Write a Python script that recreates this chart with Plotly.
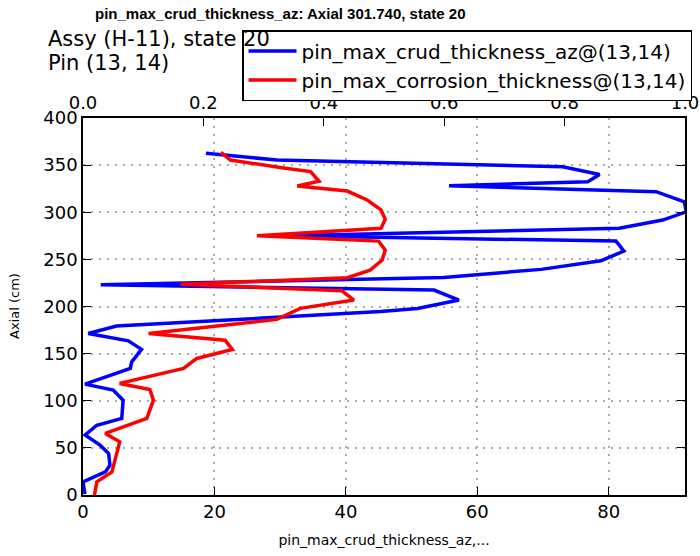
import plotly.graph_objects as go

# Blue: pin_max_crud_thickness_az (bottom axis)
crud_axial = [362.5, 355.4, 348.3, 340.0, 332.4, 328.0, 321.8, 311.0, 300.5, 291.7,
              283.0, 275.0, 269.4, 258.8, 248.5, 239.4, 230.9, 223.0, 217.4, 206.8,
              198.0, 194.6, 179.2, 171.4, 163.6, 154.5, 141.0, 134.3, 117.6, 111.3,
              100.6, 81.2, 74.0, 63.6, 52.9, 44.0, 31.6, 24.5, 13.9, 8.0, 1.0]
crud_values = [18.7, 29.5, 73.0, 78.6, 76.8, 55.7, 87.2, 91.5, 91.8, 88.2,
               81.6, 31.0, 81.1, 82.3, 78.8, 69.7, 54.9, 2.7, 53.4, 57.2,
               50.9, 45.3, 5.1, 0.8, 6.9, 8.9, 7.4, 7.2, 0.3, 4.6,
               6.1, 5.9, 2.1, 0.3, 2.6, 3.9, 4.1, 3.4, 0.0, 0.1, 0.3]

# Red: pin_max_corrosion_thickness (top axis)
corr_axial = [363.6, 355.4, 346.6, 343.1, 333.0, 327.8, 322.5, 313.0, 302.6, 292.5,
              282.9, 275.0, 269.4, 259.9, 249.3, 238.6, 230.5, 223.5, 216.7, 206.8,
              198.0, 186.3, 171.4, 164.3, 154.5, 144.9, 134.3, 118.4, 112.0, 100.6,
              81.2, 65.3, 56.4, 38.7, 24.5, 13.9, 0.0]
corr_values = [0.229, 0.245, 0.336, 0.378, 0.392, 0.356, 0.439, 0.472, 0.495, 0.502,
               0.495, 0.289, 0.491, 0.502, 0.497, 0.477, 0.439, 0.162, 0.430, 0.450,
               0.361, 0.322, 0.109, 0.236, 0.248, 0.189, 0.167, 0.061, 0.111, 0.117,
               0.106, 0.037, 0.061, 0.053, 0.048, 0.023, 0.019]

bottom_ticks = [0, 20, 40, 60, 80]
top_ticks = [0.0, 0.2, 0.4, 0.6, 0.8, 1.0]
y_ticks = [0, 50, 100, 150, 200, 250, 300, 350, 400]

FONT = "DejaVu Sans"
L, R, T, B = 83, 15, 118, 61
PW, PH = 700 - L - R, 556 - T - B


def px_x(px):
    return (px - L) / PW


def px_y(py):
    return (556 - B - py) / PH


fig = go.Figure()
fig.add_trace(go.Scatter(x=crud_values, y=crud_axial, mode="lines",
                         line=dict(color="#0000ff", width=3.5),
                         name="pin_max_crud_thickness_az@(13,14)", xaxis="x", yaxis="y"))
fig.add_trace(go.Scatter(x=corr_values, y=corr_axial, mode="lines",
                         line=dict(color="#ff0000", width=3.5),
                         name="pin_max_corrosion_thickness@(13,14)", xaxis="x2", yaxis="y"))

axis_common = dict(showline=True, linecolor="black", linewidth=1.5, ticks="inside",
                   ticklen=8, tickcolor="black", tickfont=dict(family=FONT, size=18, color="black"),
                   zeroline=False)
grid = dict(showgrid=True, gridcolor="#aaaaaa", griddash="2px,6px", gridwidth=1.5)

fig.update_layout(
    width=700, height=556,
    margin=dict(l=L, r=R, t=T, b=B, autoexpand=False),
    paper_bgcolor="white", plot_bgcolor="white",
    font=dict(family=FONT, color="black"),
    xaxis=dict(range=[0, 91.6], tickvals=bottom_ticks, mirror=True,
               title=dict(text="pin_max_crud_thickness_az,...", font=dict(family=FONT, size=14), standoff=14),
               **grid, **axis_common),
    xaxis2=dict(range=[0, 1], tickvals=top_ticks, tickformat=".1f", overlaying="x", side="top",
                showgrid=False, anchor="y", **axis_common),
    yaxis=dict(range=[0, 400], tickvals=y_ticks, mirror="ticks", **grid, **axis_common),
    legend=dict(x=px_x(242), y=px_y(30), xanchor="left", yanchor="top",
                bgcolor="white", bordercolor="black", borderwidth=1.5,
                font=dict(family=FONT, size=20, color="black"),
                tracegroupgap=0, itemwidth=48),
    showlegend=True,
    annotations=[
        dict(text="<b>pin_max_crud_thickness_az: Axial 301.740, state 20</b>",
             xref="paper", yref="paper", x=px_x(280), y=px_y(14),
             xanchor="center", yanchor="middle", showarrow=False,
             font=dict(family="Liberation Sans", size=15, color="black")),
        dict(text="Assy (H-11), state 20", xref="paper", yref="paper",
             x=px_x(46), y=px_y(39), xanchor="left", yanchor="middle",
             showarrow=False, font=dict(family=FONT, size=21, color="black")),
        dict(text="Pin (13, 14)", xref="paper", yref="paper",
             x=px_x(46), y=px_y(63), xanchor="left", yanchor="middle",
             showarrow=False, font=dict(family=FONT, size=21, color="black")),
        dict(text="Axial (cm)", xref="paper", yref="paper",
             x=px_x(14), y=px_y(306), xanchor="center", yanchor="middle", textangle=-90,
             showarrow=False, font=dict(family=FONT, size=13, color="black")),
    ],
)

fig.write_html("out.html", config={"displayModeBar": False},
               post_script="document.body.style.margin='0';")
